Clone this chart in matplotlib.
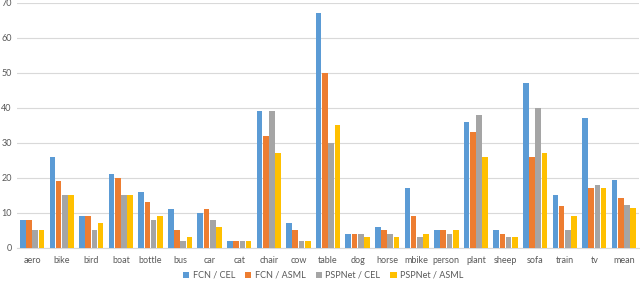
import numpy as np
import matplotlib.pyplot as plt

categories = ['aero', 'bike', 'bird', 'boat', 'bottle', 'bus', 'car', 'cat', 'chair', 'cow',
              'table', 'dog', 'horse', 'mbike', 'person', 'plant', 'sheep', 'sofa', 'train', 'tv', 'mean']
fcn_cel = [8, 26, 9, 21, 16, 11, 10, 2, 39, 7, 67, 4, 6, 17, 5, 36, 5, 47, 15, 37, 19.3]
fcn_asml = [8, 19, 9, 20, 13, 5, 11, 2, 32, 5, 50, 4, 5, 9, 5, 33, 4, 26, 12, 17, 14.3]
psp_cel = [5, 15, 5, 15, 8, 2, 8, 2, 39, 2, 30, 4, 4, 3, 4, 38, 3, 40, 5, 18, 12.3]
psp_asml = [5, 15, 7, 15, 9, 3, 6, 2, 27, 2, 35, 3, 3, 4, 5, 26, 3, 27, 9, 17, 11.3]

series = [('FCN / CEL', fcn_cel, '#5B9BD5'),
          ('FCN / ASML', fcn_asml, '#ED7D31'),
          ('PSPNet / CEL', psp_cel, '#A5A5A5'),
          ('PSPNet / ASML', psp_asml, '#FFC000')]

plt.rcParams['font.family'] = ['Lato', 'DejaVu Sans']

fig = plt.figure(figsize=(6.4, 2.83), dpi=100)
ax = fig.add_axes([0.027, 0.124, 0.971, 0.866])

x = np.arange(len(categories))
w = 0.19
for i, (name, vals, col) in enumerate(series):
    ax.bar(x + (i - 1.5) * 0.21, vals, w, color=col, label=name, zorder=3)

ax.set_xlim(-0.5, len(categories) - 0.5)
ax.set_ylim(0, 70)
ax.set_yticks(range(0, 71, 10))
ax.set_xticks(x)
ax.set_xticklabels(categories)
ax.tick_params(axis='both', length=0, labelsize=6.5, colors='#595959')
ax.tick_params(axis='x', pad=6)
ax.tick_params(axis='y', pad=4)
ax.grid(axis='y', color='#D9D9D9', linewidth=0.8, zorder=0)
for s in ['top', 'right', 'left']:
    ax.spines[s].set_visible(False)
ax.spines['bottom'].set_color('#D9D9D9')

fig.legend(loc='lower center', bbox_to_anchor=(0.505, -0.018), ncol=4, frameon=False,
           fontsize=6.5, handlelength=0.7, handleheight=0.7, columnspacing=1.1,
           handletextpad=0.4, labelcolor='#595959')

fig.savefig('out.png', dpi=100)
